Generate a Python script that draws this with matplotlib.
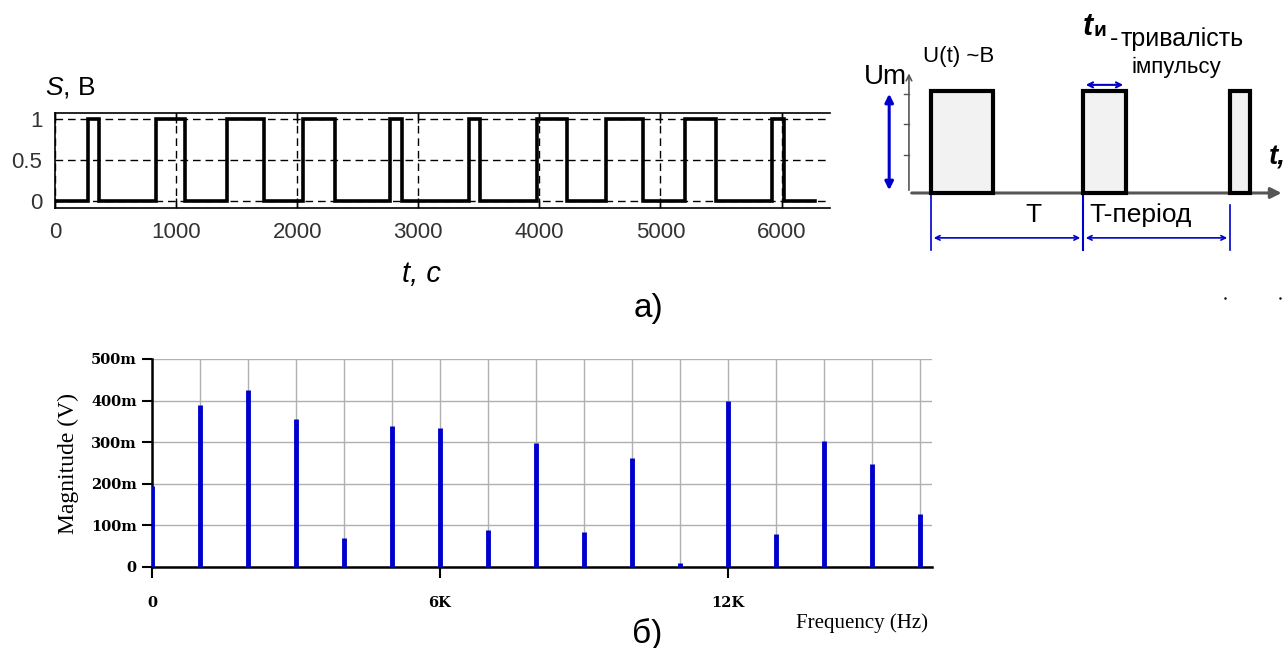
import matplotlib.pyplot as plt
import numpy as np

# DADOS DO SINAL (a): INSTANTES DE SUBIDA E DESCIDA DOS PULSOS, EM s
subida = [270, 830, 1420, 2045, 2770, 3415, 3980, 4550, 5205, 5925]
descida = [365, 1070, 1725, 2310, 2865, 3510, 4230, 4855, 5455, 6020]
t_fim = 6280
s_baixo = 0.0
s_alto = 1.0

# ESPECTRO (б): FREQUÊNCIA EM Hz E MAGNITUDE EM V
freq = [0, 1000, 2000, 3000, 4000, 5000, 6000, 7000, 8000,
        9000, 10000, 11000, 12000, 13000, 14000, 15000, 16000]
magn = [0.195, 0.39, 0.425, 0.355, 0.07, 0.34, 0.333, 0.09, 0.298,
        0.085, 0.262, 0.01, 0.398, 0.08, 0.302, 0.247, 0.128]

# ESQUEMA DOS IMPULSOS (em unidades de T e de Um)
pulso_ini = [0.145, 1.145, 2.112]
pulso_dur = [0.408, 0.283, 0.131]
Um = 1.0

plt.rcParams['mathtext.fontset'] = 'custom'
plt.rcParams['mathtext.rm'] = 'Liberation Sans'
plt.rcParams['mathtext.it'] = 'Liberation Sans:italic'

W, H = 1285, 648
fig = plt.figure(figsize=(W / 100, H / 100), dpi=100)
fig.patch.set_facecolor('white')


def rect(l, t, r, b):
    return [l / W, 1 - b / H, (r - l) / W, (b - t) / H]


sans = 'Liberation Sans'
serif = 'Liberation Serif'

# ---------------- GRÁFICO a) ----------------
ax1 = fig.add_axes(rect(55, 113, 830, 208))
t = [0]
s = [s_baixo]
for a, d in zip(subida, descida):
    t += [a, a, d, d]
    s += [s_baixo, s_alto, s_alto, s_baixo]
t.append(t_fim)
s.append(s_baixo)
ax1.plot(t, s, color='black', lw=2.6, solid_joinstyle='miter')
ax1.set_xlim(0, 6400)
ax1.set_ylim(-0.085, 1.075)
ax1.set_xticks(np.arange(0, 6001, 1000))
ax1.set_yticks([0, 0.5, 1])
ax1.set_yticklabels(['0', '0.5', '1'])
ax1.grid(True, color='black', lw=1, linestyle=(0, (5.5, 3.5)))
ax1.tick_params(direction='in', top=True, length=7, width=1, colors='black',
                labelsize=16)
ax1.tick_params(axis='y', length=0, pad=9)
ax1.tick_params(axis='x', pad=10)
for lb in ax1.get_xticklabels() + ax1.get_yticklabels():
    lb.set_fontfamily(sans)
    lb.set_color('#333333')
ax1.spines['right'].set_visible(False)
for k in ['top', 'bottom', 'left']:
    ax1.spines[k].set_linewidth(1.2)

fig.text(45 / W, 1 - 95 / H, r'$S$, B', fontsize=19, family=sans,
         va='baseline', ha='left')
fig.text(402 / W, 1 - 282 / H, 't, c', fontsize=21, family=sans, style='italic',
         va='baseline', ha='left')
fig.text(634 / W, 1 - 317 / H, 'а)', fontsize=24, family=sans,
         va='baseline', ha='left')

# ---------------- ESQUEMA ----------------
ax2 = fig.add_axes(rect(860, 0, 1285, 300))
ax2.set_xlim(-0.322, 2.474)
ax2.set_ylim(-1.049, 1.892)
ax2.axis('off')

for x0, dx in zip(pulso_ini, pulso_dur):
    ax2.add_patch(plt.Rectangle((x0, 0), dx, Um, facecolor='#f2f2f2',
                                edgecolor='black', lw=3, zorder=3))
# eixos
ax2.annotate('', xy=(2.47, 0), xytext=(0, 0),
             arrowprops=dict(arrowstyle='-|>', color='#555555', lw=2.2,
                             mutation_scale=16), zorder=2)
ax2.annotate('', xy=(0, 1.2), xytext=(0, 0),
             arrowprops=dict(arrowstyle='->', color='#555555', lw=1.2,
                             mutation_scale=10), zorder=2)
for yy in [0.373, 0.676, 0.97]:
    ax2.plot([-0.035, 0], [yy, yy], color='#555555', lw=1)
# amplitude
ax2.annotate('', xy=(-0.13, 0), xytext=(-0.13, Um),
             arrowprops=dict(arrowstyle='<|-|>', color='#0000cc', lw=2.2,
                             mutation_scale=12))
# duração do impulso
ax2.annotate('', xy=(pulso_ini[1], 1.06), xytext=(pulso_ini[1] + pulso_dur[1], 1.06),
             arrowprops=dict(arrowstyle='<->', color='#0000cc', lw=1.5,
                             mutation_scale=9))
# período
ax2.plot([pulso_ini[0], pulso_ini[0]], [0, -0.56], color='#0000cc', lw=1.2)
ax2.plot([pulso_ini[1], pulso_ini[1]], [0, -0.56], color='#0000cc', lw=1.5)
ax2.plot([pulso_ini[2], pulso_ini[2]], [-0.12, -0.56], color='#0000cc', lw=1.2)
ax2.annotate('', xy=(pulso_ini[0], -0.44), xytext=(pulso_ini[1], -0.44),
             arrowprops=dict(arrowstyle='<->', color='#0000cc', lw=1.2,
                             mutation_scale=8))
ax2.annotate('', xy=(pulso_ini[1], -0.44), xytext=(pulso_ini[2], -0.44),
             arrowprops=dict(arrowstyle='<->', color='#0000cc', lw=1.2,
                             mutation_scale=8))
ax2.plot([2.08, 2.44], [-1.03, -1.03], 'k.', ms=1.5)

ax2.text(-0.015, 1.14, 'Um', fontsize=20, family=sans, ha='right', va='center')
ax2.text(0.09, 1.335, 'U(t) ~B', fontsize=16, family=sans, ha='left', va='center')
ax2.text(1.14, 1.55, 't', fontsize=22, family=sans, style='italic',
         weight='bold', ha='left', va='baseline')
ax2.text(1.215, 1.54, 'и', fontsize=15, family=sans, weight='bold',
         ha='left', va='baseline')
ax2.text(1.325, 1.44, '-', fontsize=18, family=sans,
         ha='left', va='baseline')
ax2.text(1.39, 1.44, 'тривалість', fontsize=18, family=sans,
         ha='left', va='baseline')
ax2.text(1.465, 1.176, 'імпульсу', fontsize=16, family=sans,
         ha='left', va='baseline')
ax2.text(0.82, -0.22, 'T', fontsize=19, family=sans, ha='center', va='center')
ax2.text(1.19, -0.22, 'T-період', fontsize=19, family=sans, ha='left', va='center')
ax2.text(2.37, 0.35, 't,', fontsize=20, family=sans, style='italic',
         weight='bold', ha='left', va='center')

# ---------------- GRÁFICO б) ----------------
ax3 = fig.add_axes(rect(152, 359, 932, 567))
ax3.vlines(freq, 0, magn, color='#0000cc', lw=3.5, zorder=3)
ax3.set_xlim(0, 16250)
ax3.set_ylim(0, 0.5)
ax3.set_xticks([0, 6000, 12000])
ax3.set_xticklabels(['0', '6K', '12K'])
ax3.set_xticks(np.arange(0, 16001, 1000), minor=True)
ax3.set_yticks(np.arange(0, 0.51, 0.1))
ax3.set_yticklabels(['0', '100m', '200m', '300m', '400m', '500m'])
ax3.grid(True, which='both', color='#b0b0b0', lw=1)
ax3.tick_params(axis='x', which='minor', length=0)
ax3.tick_params(axis='x', which='major', length=8, width=1.5, pad=13)
ax3.tick_params(axis='y', length=7, width=1.5, pad=4)
for lb in ax3.get_xticklabels() + ax3.get_yticklabels():
    lb.set_fontfamily('DejaVu Serif')
    lb.set_fontweight('bold')
    lb.set_fontsize(10.5)
ax3.spines['top'].set_visible(False)
ax3.spines['right'].set_visible(False)
ax3.spines['left'].set_linewidth(1.8)
ax3.spines['bottom'].set_linewidth(1.8)
ax3.set_axisbelow(True)

fig.text(68 / W, 1 - 463 / H, 'Magnitude (V)', fontsize=17, family=serif,
         rotation=90, ha='center', va='center')
fig.text(928 / W, 1 - 623 / H, 'Frequency (Hz)', fontsize=15, family=serif,
         ha='right', va='center')
fig.text(632 / W, 1 - 643 / H, 'б)', fontsize=24, family=sans,
         va='baseline', ha='left')

fig.savefig('out.png', dpi=100)
